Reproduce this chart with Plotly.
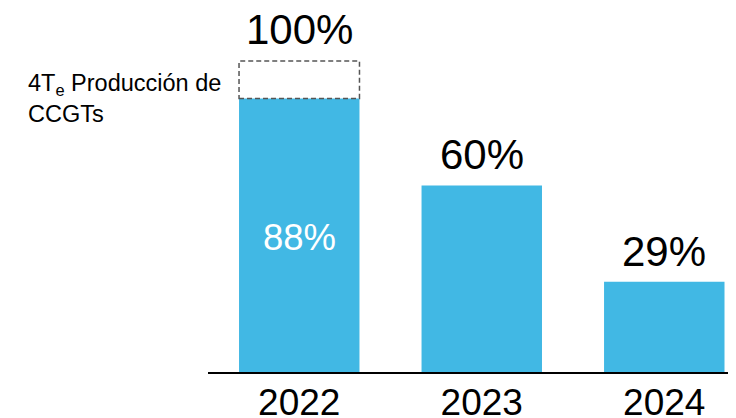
import plotly.graph_objects as go

years = ["2022", "2023", "2024"]
values = [88, 60, 29]
labels = ["88%", "60%", "29%"]
target_value = 100
target_label = "100%"
side_label = "4T<sub>e</sub> Producción de<br>CCGTs"

BAR_COLOR = "#41B8E4"
FONT = "Arial, Liberation Sans, sans-serif"
bar_width = 0.66

fig = go.Figure()
fig.add_trace(go.Bar(
    x=years, y=values, marker=dict(color=BAR_COLOR, line=dict(width=0)),
    width=bar_width, hoverinfo="skip",
))

# dashed box from 88% up to 100% on first bar
fig.add_shape(type="rect", xref="x", yref="y",
              x0=-bar_width / 2, x1=bar_width / 2, y0=values[0], y1=target_value,
              line=dict(color="#555555", width=1.5, dash="5px,3px"),
              fillcolor="rgba(0,0,0,0)")

annotations = []
# inside label for first bar
annotations.append(dict(x=0, y=values[0] / 2, xref="x", yref="y", text=labels[0],
                        showarrow=False, font=dict(size=36.5, color="white", family=FONT),
                        xanchor="center", yanchor="middle", yshift=-2))
# labels above
annotations.append(dict(x=0, y=target_value, xref="x", yref="y", text=target_label,
                        showarrow=False, font=dict(size=42, color="black", family=FONT),
                        xanchor="center", yanchor="bottom", yshift=6))
for i, (v, lab) in enumerate(zip(values, labels)):
    if i == 0:
        continue
    annotations.append(dict(x=i, y=v, xref="x", yref="y", text=lab,
                            showarrow=False, font=dict(size=42, color="black", family=FONT),
                            xanchor="center", yanchor="bottom", yshift=5))
annotations.append(dict(x=-0.3447, y=values[0], xref="paper", yref="y", text=side_label,
                        showarrow=False, font=dict(size=23.5, color="black", family=FONT),
                        xanchor="left", yanchor="middle", align="left"))

fig.update_layout(
    width=728, height=410,
    margin=dict(l=200, r=0, t=22, b=46, pad=0),
    plot_bgcolor="white", paper_bgcolor="white",
    showlegend=False,
    annotations=annotations,
    font=dict(family=FONT, color="black"),
    xaxis=dict(type="category", range=[-0.5, 2.393], showline=True, linecolor="black",
               linewidth=2, ticks="", showgrid=False, zeroline=False, automargin=False,
               ticklabelstandoff=-3,
               tickfont=dict(size=37, color="black", family=FONT)),
    yaxis=dict(range=[0, 110], visible=False, showgrid=False, zeroline=False, automargin=False),
)

fig.write_html("out.html")
